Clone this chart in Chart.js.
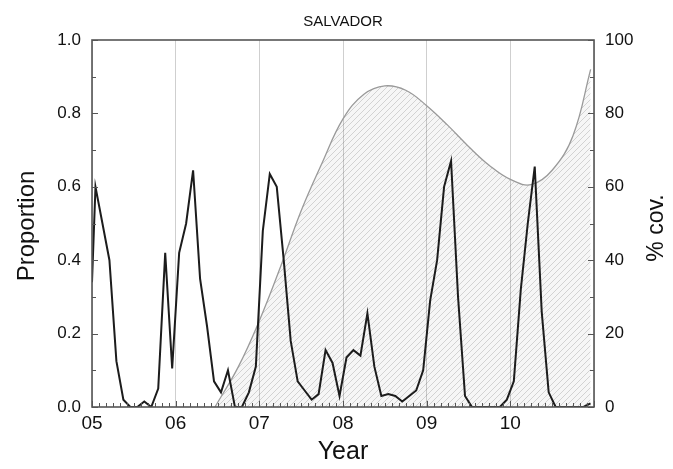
<!DOCTYPE html>
<html>
<head>
<meta charset="utf-8">
<script src="https://cdn.jsdelivr.net/npm/chart.js@4.4.1/dist/chart.umd.min.js"></script>
<style>
  body { margin: 0; background: #fff; }
  canvas { display: block; }
</style>
</head>
<body>
<canvas id="myChart" width="673" height="469"></canvas>
<script>
// monthly proportion, Jan 2005 .. Dec 2010 (mid-month)
const startYear = 2005;
const proportion = [
    0.60, 0.50, 0.40, 0.125, 0.02, 0.0, 0.0, 0.015, 0.0, 0.05, 0.42, 0.105,
    0.42, 0.50, 0.645, 0.35, 0.22, 0.07, 0.04, 0.10, 0.0, 0.0, 0.04, 0.11,
    0.48, 0.635, 0.60, 0.40, 0.18, 0.07, 0.045, 0.02, 0.035, 0.155, 0.12, 0.03,
    0.135, 0.155, 0.14, 0.255, 0.11, 0.03, 0.035, 0.03, 0.015, 0.03, 0.045, 0.10,
    0.29, 0.40, 0.60, 0.67, 0.30, 0.03, 0.0, 0.0, 0.0, 0.0, 0.0, 0.02,
    0.07, 0.32, 0.50, 0.655, 0.26, 0.04, 0.0, 0.0, 0.0, 0.0, 0.0, 0.01
];
const firstValue = 0.34; // value at the very start of 2005

// coverage curve (% cov.)
const covYears = [2006.47, 2006.75, 2007.0, 2007.25, 2007.5, 2007.75, 2008.0, 2008.25, 2008.5,
    2008.75, 2009.0, 2009.25, 2009.5, 2009.75, 2010.0, 2010.25, 2010.5, 2010.75, 2010.96];
const covValues = [0, 11, 23.5, 38, 53.5, 66.5, 78.5, 85.2, 87.5,
    86.3, 82.1, 76.8, 71.0, 65.8, 62.0, 60.6, 64.5, 74, 92];

const yearTicks = [2005, 2006, 2007, 2008, 2009, 2010];

const propPoints = [{x: startYear, y: firstValue}];
for (let i = 0; i < proportion.length; i++) {
    propPoints.push({x: startYear + (i + 0.5) / 12, y: proportion[i]});
}
const covPoints = covYears.map((yr, i) => ({x: yr, y: covValues[i]}));

// hatched fill under the coverage curve
const hatch = document.createElement('canvas');
hatch.width = 6;
hatch.height = 6;
const hc = hatch.getContext('2d');
hc.fillStyle = 'rgba(0,0,0,0.035)';
hc.fillRect(0, 0, 6, 6);
hc.strokeStyle = 'rgba(0,0,0,0.15)';
hc.lineWidth = 1;
hc.beginPath();
hc.moveTo(0, 6); hc.lineTo(6, 0);
hc.moveTo(-1, 1); hc.lineTo(1, -1);
hc.moveTo(5, 7); hc.lineTo(7, 5);
hc.stroke();
const ctx = document.getElementById('myChart').getContext('2d');
const hatchPattern = ctx.createPattern(hatch, 'repeat');

const FONT = "'Liberation Sans', Arial, sans-serif";

const frame = {
    id: 'frame',
    afterDatasetsDraw(chart) {
        const c = chart.ctx;
        const a = chart.chartArea;
        const xs = chart.scales.x, ys = chart.scales.y, y2 = chart.scales.y2;
        c.save();
        c.strokeStyle = '#555';
        c.lineWidth = 1;
        c.beginPath();
        // monthly ticks on the bottom
        for (let m = 0; m <= 72; m++) {
            const px = Math.round(xs.getPixelForValue(startYear + m / 12)) + 0.5;
            const len = m % 12 === 0 ? 6 : 4;
            c.moveTo(px, a.bottom);
            c.lineTo(px, a.bottom - len);
        }
        // left ticks every 0.1
        for (let k = 0; k <= 10; k++) {
            const py = Math.round(ys.getPixelForValue(k / 10)) + 0.5;
            const len = k % 2 === 0 ? 6 : 4;
            c.moveTo(a.left, py);
            c.lineTo(a.left + len, py);
        }
        // right ticks every 10
        for (let k = 0; k <= 10; k++) {
            const py = Math.round(y2.getPixelForValue(k * 10)) + 0.5;
            const len = k % 2 === 0 ? 6 : 4;
            c.moveTo(a.right, py);
            c.lineTo(a.right - len, py);
        }
        c.stroke();
        c.lineWidth = 1.6;
        c.strokeRect(a.left, a.top, a.right - a.left, a.bottom - a.top);

        c.fillStyle = '#111';
        c.textAlign = 'center';
        c.textBaseline = 'middle';
        c.font = '15px ' + FONT;
        c.fillText('SALVADOR', (a.left + a.right) / 2, 22);
        c.font = '25px ' + FONT;
        c.fillText('Year', (a.left + a.right) / 2, 452);
        c.save();
        c.translate(27, 226);
        c.rotate(-Math.PI / 2);
        c.font = '24px ' + FONT;
        c.fillText('Proportion', 0, 0);
        c.restore();
        c.save();
        c.translate(657, 228);
        c.rotate(-Math.PI / 2);
        c.font = '23px ' + FONT;
        c.fillText('% cov.', 0, 0);
        c.restore();
        c.restore();
    }
};

new Chart(ctx, {
    type: 'line',
    data: {
        datasets: [{
            label: 'Proportion',
            data: propPoints,
            yAxisID: 'y',
            borderColor: '#1c1c1c',
            borderWidth: 2,
            pointRadius: 0,
            tension: 0,
            fill: false,
            order: 0
        }, {
            label: '% cov.',
            data: covPoints,
            yAxisID: 'y2',
            borderColor: '#9a9a9a',
            borderWidth: 1.3,
            pointRadius: 0,
            tension: 0.4,
            backgroundColor: hatchPattern,
            fill: 'origin',
            order: 1
        }]
    },
    options: {
        responsive: false,
        animation: false,
        devicePixelRatio: 1,
        layout: {padding: {top: 40, left: 0, right: 0, bottom: 0}},
        plugins: {
            legend: {display: false},
            tooltip: {enabled: false},
            title: {display: false}
        },
        scales: {
            x: {
                type: 'linear',
                min: 2005,
                max: 2011,
                afterFit: (scale) => { scale.height = 62; },
                afterBuildTicks: (scale) => {
                    scale.ticks = yearTicks.concat([2011]).map(v => ({value: v}));
                },
                ticks: {
                    padding: 5,
                    color: '#111',
                    font: {family: FONT, size: 19},
                    callback: (v) => v >= 2011 ? '' : String(v - 2000).padStart(2, '0')
                },
                grid: {
                    color: '#cfcfcf',
                    lineWidth: 1,
                    drawTicks: false
                },
                border: {display: false}
            },
            y: {
                position: 'left',
                min: 0,
                max: 1,
                afterFit: (scale) => { scale.width = 92; },
                ticks: {
                    stepSize: 0.2,
                    padding: 11,
                    color: '#111',
                    font: {family: FONT, size: 17},
                    callback: (v) => v.toFixed(1)
                },
                grid: {display: false, drawTicks: false},
                border: {display: false}
            },
            y2: {
                position: 'right',
                min: 0,
                max: 100,
                afterFit: (scale) => { scale.width = 79; },
                ticks: {
                    stepSize: 20,
                    padding: 11,
                    color: '#111',
                    font: {family: FONT, size: 17}
                },
                grid: {display: false, drawTicks: false},
                border: {display: false}
            }
        }
    },
    plugins: [frame]
});
</script>
</body>
</html>
